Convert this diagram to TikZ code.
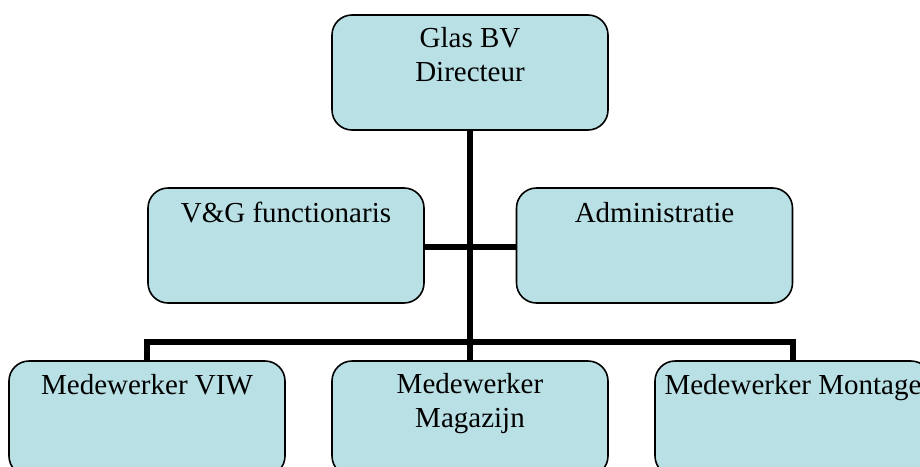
\documentclass[tikz,border=0pt]{standalone}
\usepackage{fontspec}
\setmainfont{Liberation Serif}
\usetikzlibrary{calc}
\definecolor{boxfill}{RGB}{185,224,228}
\tikzset{
  orgbox/.style={draw=black, line width=1.6pt, fill=boxfill, rounded corners=20pt,
    minimum width=276pt, minimum height=115pt, inner sep=0pt},
  orgtext/.style={font=\fontsize{29pt}{34pt}\selectfont, align=center, anchor=base, inner sep=0pt},
  link/.style={line width=5.5pt, draw=black}
}
\begin{document}
\begin{tikzpicture}[x=1pt, y=-1pt]
\useasboundingbox (0,0) rectangle (920,466);
\clip (0,0) rectangle (920,466);
% connectors, drawn first so the boxes sit on top
\coordinate (top) at (470,130);
\coordinate (bar) at (470,342);
\coordinate (barL) at (147,342);
\coordinate (barR) at (793,342);
\coordinate (midL) at (424,247);
\coordinate (midR) at (517,247);
\draw[link] (top) -- (bar) -- (470,361);
\draw[link] (midL) -- (midR);
\draw[link, line join=miter] (147,361) -- (barL) -- (barR) -- (793,361);
% boxes
\node[orgbox] (dir) at (470,72.5) {};
\node[orgbox] (vg) at (286,245.5) {};
\node[orgbox] (adm) at (654.5,245.5) {};
\node[orgbox] (viw) at (147,418.5) {};
\node[orgbox] (mag) at (470,418.5) {};
\node[orgbox] (mon) at (793,418.5) {};
% labels (base anchor sits on the last line)
\node[orgtext] (tdir) at ($(dir.north)+(0,67)$) {Glas BV\\Directeur};
\node[orgtext] (tvg) at ($(vg.north)+(0,35)$) {V\&G functionaris};
\node[orgtext] (tadm) at ($(adm.north)+(0,35)$) {Administratie};
\node[orgtext] (tviw) at ($(viw.north)+(0,34)$) {Medewerker VIW};
\node[orgtext] (tmag) at ($(mag.north)+(0,67)$) {Medewerker\\Magazijn};
\node[orgtext] (tmon) at ($(mon.north)+(0,34)$) {Medewerker Montage};
\end{tikzpicture}
\end{document}
